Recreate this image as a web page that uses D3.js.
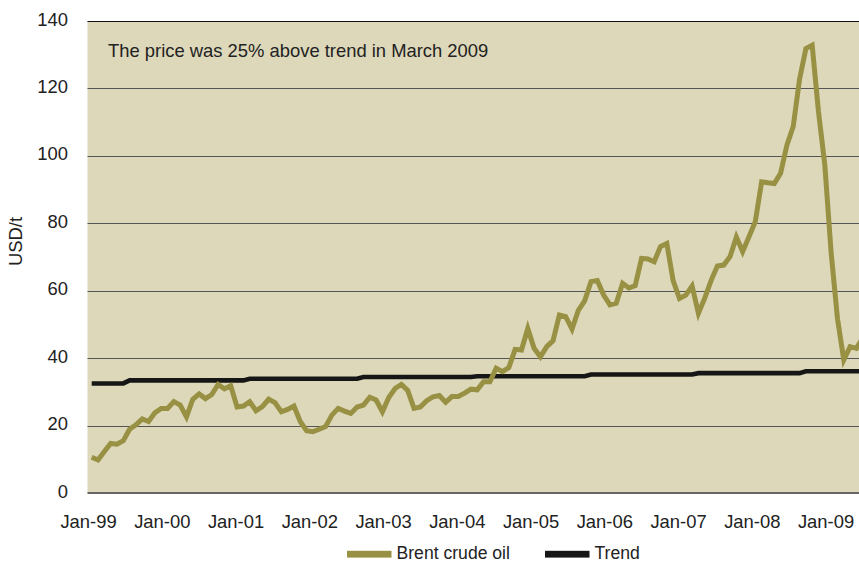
<!DOCTYPE html>
<html>
<head>
<meta charset="utf-8">
<script src="https://cdn.jsdelivr.net/npm/d3@7/dist/d3.min.js"></script>
<style>
  body { margin: 0; background: #ffffff; }
  svg { display: block; font-family: "Liberation Sans", Arial, sans-serif; }
</style>
</head>
<body>
<svg id="chart" width="859" height="562"></svg>
<script>
// Brent crude oil, monthly, starting Jan-99 (month index 0)
const brentPrices = [
    10.6, 9.8, 12.3, 14.7, 14.5, 15.5, 18.9, 20.2, 22.0, 21.2, 23.8, 25.1,   // 1999
    25.1, 27.1, 26.1, 22.6, 27.8, 29.4, 28.0, 29.2, 32.2, 30.9, 31.8, 25.5,  // 2000
    25.8, 27.1, 24.4, 25.6, 27.8, 26.8, 24.1, 24.8, 25.8, 21.2, 18.5, 18.2,  // 2001
    18.9, 19.7, 23.1, 25.1, 24.3, 23.6, 25.5, 26.1, 28.4, 27.6, 24.1, 28.3,  // 2002
    31.0, 32.2, 30.4, 25.1, 25.5, 27.4, 28.5, 28.9, 26.9, 28.6, 28.6, 29.6,  // 2003
    30.8, 30.6, 33.0, 33.0, 37.0, 36.0, 37.2, 42.6, 42.4, 48.8, 42.9, 40.4,  // 2004
    43.4, 45.2, 52.8, 52.3, 48.6, 54.2, 57.0, 62.7, 63.0, 58.7, 55.8, 56.3,  // 2005
    62.2, 60.8, 61.5, 69.6, 69.4, 68.6, 73.1, 74.0, 63.0, 57.7, 58.7, 61.4,  // 2006
    53.3, 57.8, 63.0, 67.3, 67.6, 70.1, 75.9, 71.6, 76.0, 80.5, 92.3, 92.0,  // 2007
    91.8, 94.8, 103.2, 108.7, 122.7, 131.8, 132.8, 113.1, 97.3, 71.3, 51.8, 39.5, // 2008
    43.4, 42.9, 46.0                                                          // 2009
];

// Trend line break points (month index, value)
const trendMonths = [0, 5, 6, 24, 25, 42, 43, 60, 61, 78, 79, 95, 96, 112, 113, 122];
const trendValues = [32.5, 32.5, 33.4, 33.4, 33.9, 33.9, 34.4, 34.4, 34.65, 34.65, 35.15, 35.15, 35.55, 35.55, 36.1, 36.1];

const tickLabels = ["Jan-99", "Jan-00", "Jan-01", "Jan-02", "Jan-03", "Jan-04",
    "Jan-05", "Jan-06", "Jan-07", "Jan-08", "Jan-09"];
const yTicks = [0, 20, 40, 60, 80, 100, 120, 140];
const seriesNames = ["Brent crude oil", "Trend"];
const noteText = "The price was 25% above trend in March 2009";

// Plot area
const plotLeft = 87.5, plotRight = 860, plotTop = 21, plotBottom = 493;
const oilColor = "#989042";
const trendColor = "#161616";
const fontSize = 18.4;

const Fig = d3.select("#chart");

// Scales: months for the data, points for the axis labels
const x = d3.scaleLinear().domain([0, 120]).range([91.7, 850.1]);
const xLabel = d3.scalePoint().domain(tickLabels).range([88, 825.5]);
const y = d3.scaleLinear().domain([0, 140]).range([plotBottom, plotTop]);

// Plot background
Fig.append("rect")
    .attr("x", plotLeft)
    .attr("y", plotTop)
    .attr("width", plotRight - plotLeft)
    .attr("height", plotBottom - plotTop)
    .attr("fill", "#ddd8ba");

// Gridlines
Fig.append("g")
    .selectAll("line")
    .data(yTicks.filter(d => d > 0 && d < 140))
    .join("line")
    .attr("x1", plotLeft)
    .attr("x2", plotRight)
    .attr("y1", d => Math.round(y(d)) + 0.5)
    .attr("y2", d => Math.round(y(d)) + 0.5)
    .attr("stroke", "#555555")
    .attr("stroke-width", 1);

// Top border and bottom axis line
Fig.append("line")
    .attr("x1", plotLeft).attr("x2", plotRight)
    .attr("y1", plotTop + 0.5).attr("y2", plotTop + 0.5)
    .attr("stroke", "#111111")
    .attr("stroke-width", 1);

Fig.append("line")
    .attr("x1", plotLeft).attr("x2", plotRight)
    .attr("y1", plotBottom).attr("y2", plotBottom)
    .attr("stroke", "#666666")
    .attr("stroke-width", 2);

// Clip lines to the plot area
Fig.append("clipPath")
    .attr("id", "plotClip")
    .append("rect")
    .attr("x", plotLeft)
    .attr("y", 0)
    .attr("width", plotRight - plotLeft)
    .attr("height", plotBottom);

const line = d3.line()
    .x(d => x(d[0]))
    .y(d => y(d[1]));

// Trend line
Fig.append("path")
    .datum(trendMonths.map((m, i) => [m, trendValues[i]]))
    .attr("clip-path", "url(#plotClip)")
    .attr("fill", "none")
    .attr("stroke", trendColor)
    .attr("stroke-width", 4.6)
    .attr("d", line);

// Brent line
Fig.append("path")
    .datum(brentPrices.map((v, i) => [i, v]))
    .attr("clip-path", "url(#plotClip)")
    .attr("fill", "none")
    .attr("stroke", oilColor)
    .attr("stroke-width", 5)
    .attr("stroke-linejoin", "miter")
    .attr("d", line);

// Y axis
const yAxis = Fig.append("g")
    .attr("transform", `translate(${68},${0})`)
    .call(d3.axisLeft(y).tickValues(yTicks).tickSize(0).tickPadding(0));
yAxis.select(".domain").remove();
yAxis.selectAll("text")
    .attr("dy", "0.22em")
    .attr("font-size", fontSize)
    .attr("font-family", "Liberation Sans, Arial, sans-serif")
    .attr("fill", "#222222");

// X axis
const xAxis = Fig.append("g")
    .attr("transform", `translate(${0},${plotBottom})`)
    .call(d3.axisBottom(xLabel).tickSize(0).tickPadding(0));
xAxis.select(".domain").remove();
xAxis.selectAll("text")
    .attr("y", 35)
    .attr("dy", null)
    .attr("font-size", fontSize)
    .attr("font-family", "Liberation Sans, Arial, sans-serif")
    .attr("fill", "#222222");

// Y axis label
Fig.append("text")
    .attr("transform", `translate(${22},${241.5}) rotate(-90)`)
    .attr("text-anchor", "middle")
    .attr("font-size", fontSize)
    .attr("fill", "#222222")
    .text("USD/t");

// Note inside the plot
Fig.append("text")
    .attr("x", 108)
    .attr("y", 57)
    .attr("font-size", fontSize)
    .attr("fill", "#222222")
    .text(noteText);

// Legend
const legendX = [347, 545];
const legendColors = [oilColor, trendColor];
const legendItems = Fig.append("g")
    .selectAll("g")
    .data(seriesNames)
    .join("g")
    .attr("transform", (d, i) => `translate(${legendX[i]},${0})`);

legendItems.append("rect")
    .attr("x", 0)
    .attr("y", 550.8)
    .attr("width", 44.5)
    .attr("height", 6.8)
    .attr("fill", (d, i) => legendColors[i]);

legendItems.append("text")
    .attr("x", 49.5)
    .attr("y", 558.5)
    .attr("font-size", 17.6)
    .attr("fill", "#222222")
    .text(d => d);
</script>
</body>
</html>
